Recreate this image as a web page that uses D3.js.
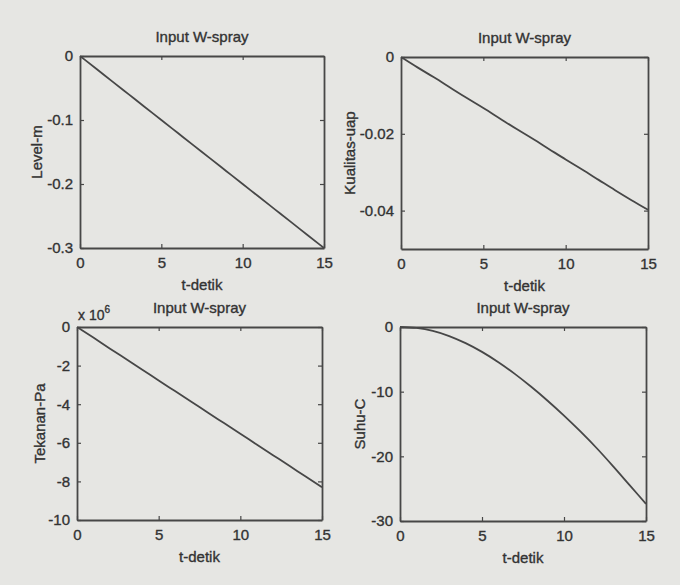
<!DOCTYPE html>
<html>
<head>
<meta charset="utf-8">
<script src="https://cdn.jsdelivr.net/npm/d3@7"></script>
<style>
  html, body { margin: 0; padding: 0; background: #e6e6e3; }
  svg { display: block; }
  text { font-family: Arial, "Liberation Sans", Helvetica, sans-serif; fill: #333; stroke: #333; stroke-width: 0.35px; }
</style>
</head>
<body>
<svg id="chart" width="680" height="585"></svg>
<script>
// ---- data ----
const tDetik = [0,1,2,3,4,5,6,7,8,9,10,11,12,13,14,15];
const levelM = [0,-0.02,-0.04,-0.06,-0.08,-0.10,-0.12,-0.14,-0.16,-0.18,-0.20,-0.22,-0.24,-0.26,-0.28,-0.30];
const kualitasUap = [0,-0.0027,-0.0053,-0.008,-0.0107,-0.0133,-0.016,-0.0187,-0.0213,-0.024,-0.0267,-0.0293,-0.032,-0.0347,-0.0373,-0.0398];
const tekananPa = [0,-0.55,-1.11,-1.66,-2.21,-2.77,-3.32,-3.87,-4.43,-4.98,-5.53,-6.09,-6.64,-7.19,-7.75,-8.3]; // x 10^6
const suhuC = [0,-0.15,-0.6,-1.4,-2.5,-3.85,-5.45,-7.25,-9.25,-11.4,-13.7,-16.15,-18.75,-21.55,-24.45,-27.35];

const xTicks = [0,5,10,15];
const levelTicks = [0,-0.1,-0.2,-0.3];
const kualitasTicks = [0,-0.02,-0.04];
const tekananTicks = [0,-2,-4,-6,-8,-10];
const suhuTicks = [0,-10,-20,-30];

const titleText = "Input W-spray";
const xLabelText = "t-detik";

// ---- layout ----
const panels = [
  { y: levelM, yDomain: [-0.3, 0], yTicks: levelTicks, fmt: d3.format(".1f"), ylabel: "Level-m",
    box: { l: 80, r: 324, t: 56, b: 248 }, ylabelX: 37 },
  { y: kualitasUap, yDomain: [-0.05, 0], yTicks: kualitasTicks, fmt: d3.format(".2f"), ylabel: "Kualitas-uap",
    box: { l: 401, r: 648, t: 57, b: 249 }, ylabelX: 350 },
  { y: tekananPa, yDomain: [-10, 0], yTicks: tekananTicks, fmt: d3.format("d"), ylabel: "Tekanan-Pa",
    box: { l: 77, r: 322, t: 327, b: 520 }, ylabelX: 40, exponent: "6" },
  { y: suhuC, yDomain: [-30, 0], yTicks: suhuTicks, fmt: d3.format("d"), ylabel: "Suhu-C",
    box: { l: 400, r: 646, t: 327, b: 521 }, ylabelX: 360 }
];

const svg = d3.select("#chart");
const ink = "#474747";
const fs = 15;
const fmtTick = f => (d => d === 0 ? "0" : f(d).replace("\u2212", "-"));

panels.forEach(p => {
  const b = p.box;
  const x = d3.scaleLinear().domain([0, 15]).range([b.l, b.r]);
  const y = d3.scaleLinear().domain(p.yDomain).range([b.b, b.t]);
  const g = svg.append("g");

  const tl = 4;
  const ax = [
    d3.axisBottom(x).tickValues(xTicks).tickSizeInner(-tl).tickSizeOuter(0).tickPadding(9).tickFormat(d3.format("d")),
    d3.axisTop(x).tickValues(xTicks).tickSizeInner(-tl).tickSizeOuter(0).tickFormat(""),
    d3.axisLeft(y).tickValues(p.yTicks).tickSizeInner(-tl).tickSizeOuter(0).tickPadding(7).tickFormat(fmtTick(p.fmt)),
    d3.axisRight(y).tickValues(p.yTicks).tickSizeInner(-tl).tickSizeOuter(0).tickFormat("")
  ];
  const tr = [`translate(0,${b.b})`, `translate(0,${b.t})`, `translate(${b.l},0)`, `translate(${b.r},0)`];
  ax.forEach((a, i) => {
    const ag = g.append("g").attr("transform", tr[i]).call(a);
    ag.select(".domain").attr("stroke", ink).attr("stroke-width", 1.8);
    ag.selectAll(".tick line").attr("stroke", ink).attr("stroke-width", 1.2);
    ag.selectAll(".tick text").attr("font-size", fs).attr("fill", "#333")
      .style("font-family", "Arial, 'Liberation Sans', sans-serif");
  });

  const line = d3.line().x((d, i) => x(tDetik[i])).y(d => y(d)).curve(d3.curveMonotoneX);
  g.append("path").datum(p.y).attr("d", line)
    .attr("fill", "none").attr("stroke", ink).attr("stroke-width", 1.8);

  g.append("text").attr("x", (b.l + b.r) / 2).attr("y", b.t - 14)
    .attr("text-anchor", "middle").attr("font-size", fs).text(titleText);
  g.append("text").attr("x", (b.l + b.r) / 2).attr("y", b.b + 42)
    .attr("text-anchor", "middle").attr("font-size", fs).text(xLabelText);
  const cy = (b.t + b.b) / 2;
  g.append("text").attr("transform", `translate(${p.ylabelX + 5},${cy}) rotate(-90)`)
    .attr("text-anchor", "middle").attr("font-size", fs).text(p.ylabel);
  if (p.exponent) {
    const t = g.append("text").attr("x", b.l + 1).attr("y", b.t - 7).attr("font-size", fs - 1);
    t.append("tspan").text("x 10");
    t.append("tspan").attr("dy", -7).attr("font-size", 10).text(p.exponent);
  }
});
</script>
</body>
</html>
